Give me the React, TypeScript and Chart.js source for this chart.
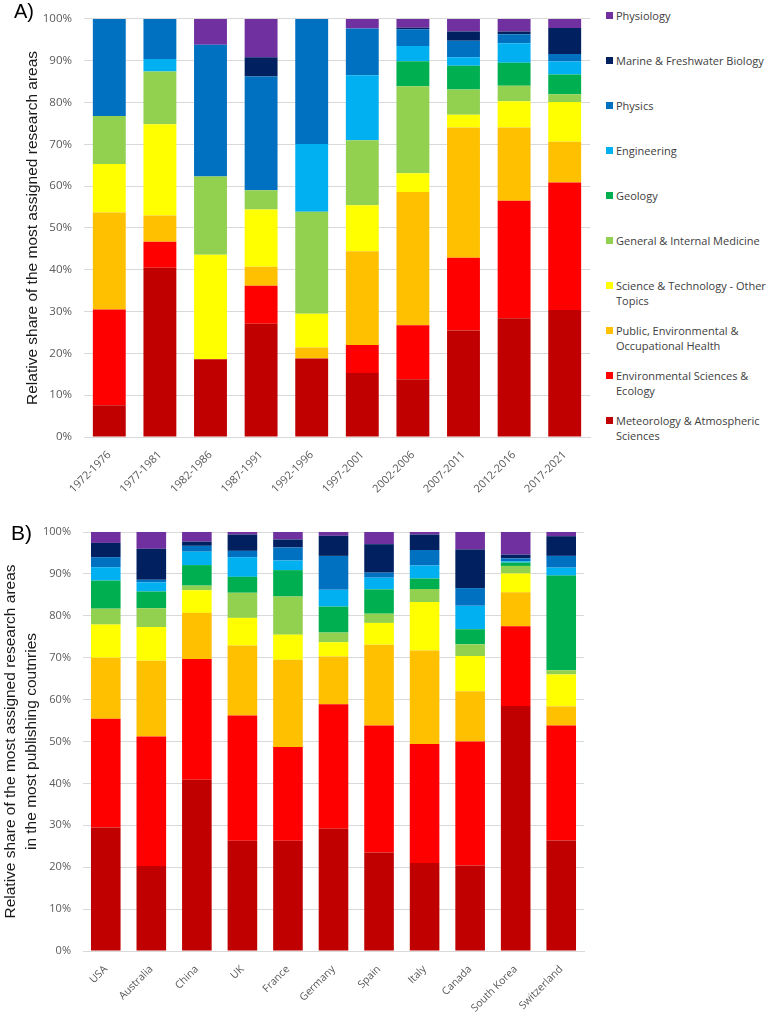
import React, { useEffect, useRef } from "react";
import { Chart, registerables } from "chart.js";
Chart.register(...registerables);

const seriesNames = [
  "Meteorology & Atmospheric Sciences",
  "Environmental Sciences & Ecology",
  "Public, Environmental & Occupational Health",
  "Science & Technology - Other Topics",
  "General & Internal Medicine",
  "Geology",
  "Engineering",
  "Physics",
  "Marine & Freshwater Biology",
  "Physiology",
];
const legendLines = [
  ["Meteorology & Atmospheric", "Sciences"],
  ["Environmental Sciences &", "Ecology"],
  ["Public, Environmental &", "Occupational Health"],
  ["Science & Technology - Other", "Topics"],
  ["General & Internal Medicine"],
  ["Geology"],
  ["Engineering"],
  ["Physics"],
  ["Marine & Freshwater Biology"],
  ["Physiology"],
];
const seriesColors = ["#C00000", "#FF0000", "#FFC000", "#FFFF00", "#92D050", "#00B050", "#00B0F0", "#0070C0", "#002060", "#7030A0"];

// ---- Panel A: periods ----
const periods = ["1972-1976", "1977-1981", "1982-1986", "1987-1991", "1992-1996", "1997-2001", "2002-2006", "2007-2011", "2012-2016", "2017-2021"];
const metA = [7.6, 40.5, 18.6, 27.1, 18.8, 15.3, 13.8, 25.5, 28.4, 30.4];
const envA = [22.9, 6.2, 0, 9.1, 0, 6.7, 12.9, 17.4, 28.1, 30.5];
const pubA = [23.2, 6.3, 0, 4.5, 2.6, 22.4, 31.9, 31.1, 17.5, 9.7];
const sciA = [11.6, 21.8, 25.0, 13.7, 8.1, 11.0, 4.5, 3.1, 6.3, 9.5];
const medA = [11.5, 12.6, 18.7, 4.6, 24.4, 15.6, 20.8, 6.0, 3.7, 1.9];
const geoA = [0, 0, 0, 0, 0, 0, 6.0, 5.7, 5.5, 4.7];
const engA = [0, 3.0, 0, 0, 16.2, 15.5, 3.6, 2.0, 4.7, 3.1];
const phyA = [23.2, 9.6, 31.5, 27.2, 29.9, 11.2, 4.0, 4.0, 2.1, 1.8];
const marA = [0, 0, 0, 4.6, 0, 0, 0.4, 2.2, 0.7, 6.2];
const physioA = [0, 0, 6.2, 9.2, 0, 2.3, 2.1, 3.0, 3.0, 2.2];

// ---- Panel B: countries ----
const countries = ["USA", "Australia", "China", "UK", "France", "Germany", "Spain", "Italy", "Canada", "South Korea", "Switzerland"];
const metB = [29.5, 20.3, 40.9, 26.3, 26.3, 29.2, 23.5, 21.0, 20.4, 58.5, 26.4];
const envB = [25.9, 30.9, 28.8, 29.9, 22.4, 29.7, 30.3, 28.4, 29.6, 19.0, 27.4];
const pubB = [14.6, 18.1, 11.0, 16.7, 20.8, 11.4, 19.3, 22.3, 12.0, 8.1, 4.6];
const sciB = [7.9, 8.0, 5.4, 6.6, 6.0, 3.4, 5.2, 11.6, 8.4, 4.5, 7.6];
const medB = [3.8, 4.5, 1.1, 6.0, 9.1, 2.3, 2.2, 3.1, 2.8, 1.8, 1.0];
const geoB = [6.7, 4.0, 4.9, 3.8, 6.3, 6.2, 5.8, 2.5, 3.6, 0.8, 22.6];
const engB = [3.2, 2.2, 3.2, 4.7, 2.3, 4.0, 2.8, 3.1, 5.6, 0.3, 1.9];
const phyB = [2.4, 0.6, 1.4, 1.5, 3.1, 8.1, 1.2, 3.7, 4.2, 0.7, 2.8];
const marB = [3.4, 7.4, 1.0, 3.9, 1.9, 4.8, 6.8, 3.7, 9.2, 0.9, 4.7];
const physioB = [2.6, 4.0, 2.3, 0.6, 1.8, 0.9, 2.9, 0.6, 4.2, 5.4, 1.0];

const yTicks = [0, 10, 20, 30, 40, 50, 60, 70, 80, 90, 100];

const titleA = "Relative share of the most assigned research areas";
const titleB = ["Relative share of the most assigned research areas", "in the most publishing coutnries"];

const TICK_FONT = '"Open Sans", sans-serif';
const TITLE_FONT = '"Liberation Sans", Arial, sans-serif';

type Opts = {
  yWidth: number;
  xHeight: number;
  padding: { left: number; right: number; top: number; bottom: number };
  title: string | string[];
  titlePad: number;
  titleLineHeight: string;
  xFont: number;
  yFont: number;
  xOff: number;
};

// Draws the category labels of the x scale rotated by 45 degrees,
// anchored (right end, middle) under each tick of the scale.
const rotatedXLabels = {
  id: "rotatedXLabels",
  afterDraw(chart: any, _args: any, opts: any) {
    const xs = chart.scales.x;
    const ctx = chart.ctx;
    const labels: string[] = chart.data.labels;
    ctx.save();
    ctx.fillStyle = "#595959";
    ctx.font = `${opts.size}px ${TICK_FONT}`;
    ctx.textAlign = "right";
    ctx.textBaseline = "middle";
    labels.forEach((lb, i) => {
      const x = xs.getPixelForTick(i);
      const y = xs.top + opts.offset;
      ctx.save();
      ctx.translate(x, y);
      ctx.rotate(-Math.PI / 4);
      ctx.fillText(lb, 0, 0);
      ctx.restore();
    });
    ctx.restore();
  },
};

function makeConfig(labels: string[], series: number[][], o: Opts): any {
  return {
    type: "bar",
    data: {
      labels,
      datasets: series.map((d, i) => ({
        label: seriesNames[i],
        data: d,
        backgroundColor: seriesColors[i],
        borderWidth: 0,
        barPercentage: 0.65,
        categoryPercentage: 1,
      })),
    },
    plugins: [rotatedXLabels],
    options: {
      responsive: false,
      animation: false,
      layout: { padding: o.padding },
      plugins: {
        legend: { display: false },
        tooltip: { enabled: false },
        title: { display: false },
        rotatedXLabels: { size: o.xFont, offset: o.xOff },
      },
      scales: {
        x: {
          stacked: true,
          grid: { display: false, drawTicks: false },
          border: { display: true, color: "#d9d9d9", width: 1 },
          ticks: { display: false, autoSkip: false },
          afterFit: (s: any) => {
            s.height = o.xHeight;
          },
        },
        y: {
          stacked: true,
          min: 0,
          max: 100,
          afterBuildTicks: (s: any) => {
            s.ticks = yTicks.map((v) => ({ value: v }));
          },
          grid: { color: "#d9d9d9", lineWidth: 1, drawTicks: false },
          border: { display: false },
          ticks: {
            color: "#595959",
            font: { family: TICK_FONT, size: o.yFont },
            padding: 12,
            callback: (v: any) => v + "%",
          },
          title: {
            display: true,
            text: o.title,
            color: "#1a1a1a",
            font: { family: TITLE_FONT, size: 15.5, lineHeight: o.titleLineHeight },
            padding: { top: o.titlePad, bottom: 0 },
          },
          afterFit: (s: any) => {
            s.width = o.yWidth;
          },
        },
      },
    },
  };
}

export default function App() {
  const refA = useRef<HTMLCanvasElement>(null);
  const refB = useRef<HTMLCanvasElement>(null);

  useEffect(() => {
    document.body.style.margin = "0";
    const a = new Chart(
      refA.current!,
      makeConfig(periods, [metA, envA, pubA, sciA, medA, geoA, engA, phyA, marA, physioA], {
        yWidth: 84,
        xHeight: 68,
        padding: { left: 0, right: 10, top: 9, bottom: 0 },
        title: titleA,
        titlePad: 24,
        titleLineHeight: "18px",
        xFont: 11,
        yFont: 11.5,
        xOff: 16,
      })
    );
    const b = new Chart(
      refB.current!,
      makeConfig(countries, [metB, envB, pubB, sciB, medB, geoB, engB, phyB, marB, physioB], {
        yWidth: 83,
        xHeight: 63,
        padding: { left: 0, right: 16, top: 27, bottom: 0 },
        title: titleB,
        titlePad: 0,
        titleLineHeight: "21px",
        xFont: 10.5,
        yFont: 11,
        xOff: 16.5,
      })
    );
    return () => {
      a.destroy();
      b.destroy();
    };
  }, []);

  const legendOrder = [9, 8, 7, 6, 5, 4, 3, 2, 1, 0];

  return (
    <div style={{ position: "relative", width: 769, height: 1014, background: "#fff", overflow: "hidden" }}>
      <canvas ref={refA} width={600} height={505} style={{ position: "absolute", left: 0, top: 0 }} />
      <canvas ref={refB} width={600} height={509} style={{ position: "absolute", left: 0, top: 505 }} />
      <div style={{ position: "absolute", left: 14, top: 0, font: `20px ${TITLE_FONT}`, color: "#000" }}>A)</div>
      <div style={{ position: "absolute", left: 11, top: 521, font: `21px ${TITLE_FONT}`, color: "#000" }}>B)</div>
      {legendOrder.map((si, k) => (
        <div key={si} style={{ position: "absolute", left: 605, top: 15 + 45 * k - 7.5 }}>
          <div style={{ position: "absolute", left: 1, top: 4.5, width: 7, height: 7, background: seriesColors[si] }} />
          <div
            style={{
              position: "absolute",
              left: 11,
              top: 0,
              whiteSpace: "nowrap",
              font: `11px ${TICK_FONT}`,
              lineHeight: "15px",
              color: "#404040",
            }}
          >
            {legendLines[si].map((ln, j) => (
              <div key={j}>{ln}</div>
            ))}
          </div>
        </div>
      ))}
    </div>
  );
}
